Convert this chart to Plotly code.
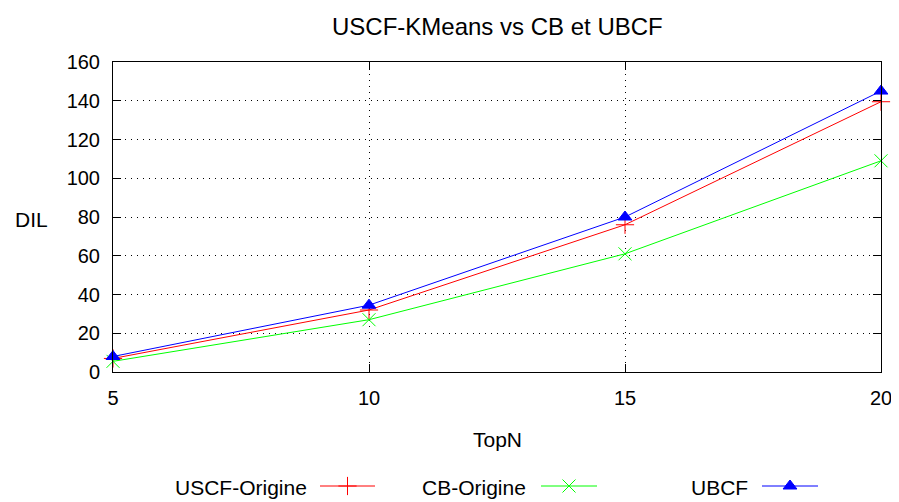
import plotly.graph_objects as go

# values
topn = [5, 10, 15, 20]
uscf_origine = [7, 32, 76, 139.5]
cb_origine = [5.5, 27, 61, 109]
ubcf = [8, 34.5, 80, 145]

y_ticks = [0, 20, 40, 60, 80, 100, 120, 140, 160]

series_names = ['USCF-Origine', 'CB-Origine', 'UBCF']
series_colors = ['#ff0000', '#00ff00', '#0000ff']
series_symbols = ['cross-thin-open', 'x-thin-open', 'triangle-up']
series_values = [uscf_origine, cb_origine, ubcf]

# the page body has an 8px margin, so the figure is drawn 8px in from the corner
OFF = 8
W, H = 899 - OFF, 502 - OFF
FONT = 'Liberation Sans, Arial, sans-serif'
KEY_TOP = 466  # the key band starts below the x-axis title


def px(x):
    return (x - OFF) / W


def py(y):
    return 1 - (y - OFF) / H


fig = go.Figure()

for name, vals, col, sym in zip(series_names, series_values, series_colors, series_symbols):
    fig.add_trace(go.Scatter(
        x=topn, y=vals, name=name, mode='lines+markers',
        line=dict(color=col, width=1),
        marker=dict(symbol=sym, size=13 if sym != 'triangle-up' else 12,
                    color=col, line=dict(color=col, width=1)),
        showlegend=False, cliponaxis=False,
    ))

# gnuplot-style key below the plot: text, then line sample with the point symbol
key_text_right = [309, 528, 750]
key_line = [(320, 375), (541, 597), (762, 818)]
KEY_Y = 486
for name, col, sym, tr, (a, b) in zip(series_names, series_colors, series_symbols,
                                     key_text_right, key_line):
    fig.add_trace(go.Scatter(
        x=[a, b], y=[KEY_Y, KEY_Y], mode='lines', line=dict(color=col, width=1),
        xaxis='x2', yaxis='y2', showlegend=False, hoverinfo='skip'))
    fig.add_trace(go.Scatter(
        x=[(a + b) / 2], y=[KEY_Y], mode='markers',
        marker=dict(symbol=sym, size=13 if sym != 'triangle-up' else 12,
                    color=col, line=dict(color=col, width=1)),
        xaxis='x2', yaxis='y2', showlegend=False, hoverinfo='skip', cliponaxis=False))
    fig.add_annotation(text=name, x=px(tr), y=py(KEY_Y + 1), xref='paper', yref='paper',
                       xanchor='right', yanchor='middle', showarrow=False,
                       font=dict(size=21, color='black', family=FONT))

axis_common = dict(
    showline=True, linecolor='black', linewidth=1, mirror='ticks',
    ticks='inside', ticklen=8, tickcolor='black', tickwidth=1,
    showgrid=True, gridcolor='black', gridwidth=1, griddash='1px,5px',
    zeroline=False, automargin=False,
    tickfont=dict(size=20, color='black', family=FONT),
)

fig.update_layout(
    width=W, height=H,
    margin=dict(l=0, r=0, t=0, b=0),
    paper_bgcolor='white', plot_bgcolor='white',
    font=dict(family=FONT, color='black'),
    xaxis=dict(domain=[px(113), px(881)], range=[5, 20], tickvals=topn,
               ticklabelstandoff=8, **axis_common),
    yaxis=dict(domain=[py(372), py(62)], range=[0, 160], tickvals=y_ticks,
               ticklabelstandoff=8, **axis_common),
    # overlay axes for the key band, in reference pixels
    xaxis2=dict(domain=[0, 1], range=[OFF, 899], visible=False, anchor='y2',
                fixedrange=True, automargin=False),
    yaxis2=dict(domain=[0, py(KEY_TOP)], range=[502, KEY_TOP], visible=False, anchor='x2',
                fixedrange=True, automargin=False),
    showlegend=False,
)

fig.add_annotation(text='USCF-KMeans vs CB et UBCF', x=px(497), y=py(26),
                   xref='paper', yref='paper', xanchor='center', yanchor='middle',
                   showarrow=False, font=dict(size=24, color='black', family=FONT))
fig.add_annotation(text='TopN', x=px(497), y=py(439),
                   xref='paper', yref='paper', xanchor='center', yanchor='middle',
                   showarrow=False, font=dict(size=21, color='black', family=FONT))
fig.add_annotation(text='DIL', x=px(31), y=py(219),
                   xref='paper', yref='paper', xanchor='center', yanchor='middle',
                   showarrow=False, font=dict(size=21, color='black', family=FONT))

fig.write_html('out.html')
